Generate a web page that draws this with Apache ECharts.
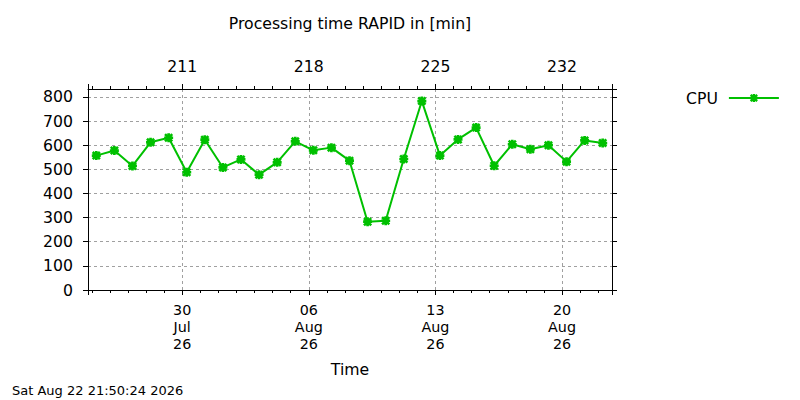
<!DOCTYPE html>
<html lang="en">
<head>
	<meta charset="UTF-8">
	<title>Processing time RAPID</title>
	<script src="https://cdn.jsdelivr.net/npm/echarts@6.0.0/dist/echarts.min.js" type="text/javascript"></script>
	<style>
		html,body{margin:0;padding:0;background:#fff;}
		#chart{width:800px;height:400px;}
	</style>
</head>
<body>
<div id="chart"></div>
<script>
	// one sample per day, taken around 06:00
	var sampleDates = ['2026-07-25','2026-07-26','2026-07-27','2026-07-28','2026-07-29','2026-07-30','2026-07-31',
		'2026-08-01','2026-08-02','2026-08-03','2026-08-04','2026-08-05','2026-08-06','2026-08-07','2026-08-08',
		'2026-08-09','2026-08-10','2026-08-11','2026-08-12','2026-08-13','2026-08-14','2026-08-15','2026-08-16',
		'2026-08-17','2026-08-18','2026-08-19','2026-08-20','2026-08-21','2026-08-22'];
	var sampleTime = '06:00';
	var cpuMinutes = [557, 578, 514, 612, 631, 488, 623, 508, 541, 478, 529, 616, 579, 590, 536,
		283, 287, 543, 783, 557, 624, 673, 515, 604, 583, 600, 532, 620, 609];
	var seriesName = 'CPU';
	var yTicks = [0, 100, 200, 300, 400, 500, 600, 700, 800];
	var yMax = 833;
	var xStart = '2026-07-24T19:00';
	var xEnd = '2026-08-22T18:20';
	var weekOrigin = Date.UTC(2026, 6, 30);   // 30 Jul, a major tick
	var monthNames = ['Jan','Feb','Mar','Apr','May','Jun','Jul','Aug','Sep','Oct','Nov','Dec'];

	var DAY = 86400000;
	var FONT = 'DejaVu Sans';

	// x axis runs in weeks counted from 30 Jul, so the nice interval is 1 week
	function toWeeks(str){
		var p = str.split('T');
		var d = p[0].split('-');
		var t = p[1].split(':');
		var ms = Date.UTC(+d[0], +d[1] - 1, +d[2], +t[0], +t[1]);
		return (ms - weekOrigin) / (7 * DAY);
	}
	function weeksToDate(v){
		return new Date(weekOrigin + Math.round(v * 7) * DAY);
	}
	function pad2(n){
		return (n < 10 ? '0' : '') + n;
	}
	function dateLabel(v){
		var d = weeksToDate(v);
		return pad2(d.getUTCDate()) + '\n' + monthNames[d.getUTCMonth()] + '\n' + pad2(d.getUTCFullYear() % 100);
	}
	function dayOfYear(v){
		var d = weeksToDate(v);
		return Math.round((d.getTime() - Date.UTC(d.getUTCFullYear(), 0, 1)) / DAY) + 1;
	}

	var points = [];
	for(var i=0;i<sampleDates.length;i++){
		points.push([toWeeks(sampleDates[i] + 'T' + sampleTime), cpuMinutes[i]]);
	}

	// gnuplot style asterisk: plus + cross, drawn thick
	var starSymbol = 'path://M0,3.5L10,3.5L10,6.5L0,6.5Z M3.5,0L6.5,0L6.5,10L3.5,10Z M2,0L10,8L8,10L0,2Z M8,0L10,2L2,10L0,8Z';

	var axisLine = {show:true, onZero:false, lineStyle:{color:'#000', width:1}};
	var gridLine = {show:true, lineStyle:{color:'#a0a0a0', width:1, type:[3,3]}};
	var majorTick = {show:true, inside:false, length:5, lineStyle:{color:'#000'}};
	var dayTick = {show:true, splitNumber:7, length:3, lineStyle:{color:'#000'}};

	var myChart = echarts.init(document.getElementById('chart'), null, {renderer:'svg'});
	var option = {
		animation:false,
		backgroundColor:'#fff',
		textStyle:{fontFamily:FONT},
		grid:{left:88, right:188, top:89, bottom:110},
		legend:{
			data:[seriesName],
			left:681,
			top:85,
			align:'right',
			itemWidth:50,
			itemHeight:10,
			textStyle:{fontFamily:FONT, fontSize:15.7, color:'#000', padding:[0,6,0,0]}
		},
		graphic:[
			{type:'text', x:350, y:23, style:{text:'Processing time RAPID in [min]', font:'15.7px "DejaVu Sans"', fill:'#000', textAlign:'center', textVerticalAlign:'middle'}},
			{type:'text', x:12, y:390, style:{text:'Sat Aug 22 21:50:24 2026', font:'13px "DejaVu Sans"', fill:'#000', textAlign:'left', textVerticalAlign:'middle'}}
		],
		xAxis:[
			{
				type:'value',
				position:'bottom',
				min:toWeeks(xStart),
				max:toWeeks(xEnd),
				splitNumber:4,
				name:'Time',
				nameLocation:'middle',
				nameGap:71,
				nameTextStyle:{fontFamily:FONT, fontSize:15.7, color:'#000'},
				axisLine:axisLine,
				axisTick:majorTick,
				minorTick:dayTick,
				axisLabel:{margin:12, formatter:dateLabel, showMinLabel:false, showMaxLabel:false,
					fontFamily:FONT, fontSize:14.3, lineHeight:16.7, color:'#000'},
				splitLine:gridLine
			},
			{
				type:'value',
				position:'top',
				min:toWeeks(xStart),
				max:toWeeks(xEnd),
				splitNumber:4,
				axisLine:axisLine,
				axisTick:majorTick,
				minorTick:dayTick,
				axisLabel:{margin:15, formatter:dayOfYear, showMinLabel:false, showMaxLabel:false,
					fontFamily:FONT, fontSize:15.7, color:'#000'},
				splitLine:{show:false}
			}
		],
		yAxis:[
			{
				type:'value',
				position:'left',
				min:yTicks[0],
				max:yMax,
				interval:yTicks[1] - yTicks[0],
				axisLine:axisLine,
				axisTick:majorTick,
				axisLabel:{margin:15, showMaxLabel:false, fontFamily:FONT, fontSize:15.7, color:'#000'},
				splitLine:gridLine
			},
			{
				type:'value',
				position:'right',
				min:yTicks[0],
				max:yMax,
				interval:yTicks[1] - yTicks[0],
				axisLine:axisLine,
				axisTick:majorTick,
				axisLabel:{show:false},
				splitLine:{show:false}
			}
		],
		series:[
			{
				name:seriesName,
				type:'line',
				xAxisIndex:0,
				yAxisIndex:0,
				data:points,
				symbol:starSymbol,
				symbolSize:9,
				showAllSymbol:true,
				lineStyle:{color:'#00c000', width:2},
				itemStyle:{color:'#00c000'}
			}
		]
	};
	myChart.setOption(option);
</script>
</body>
</html>
